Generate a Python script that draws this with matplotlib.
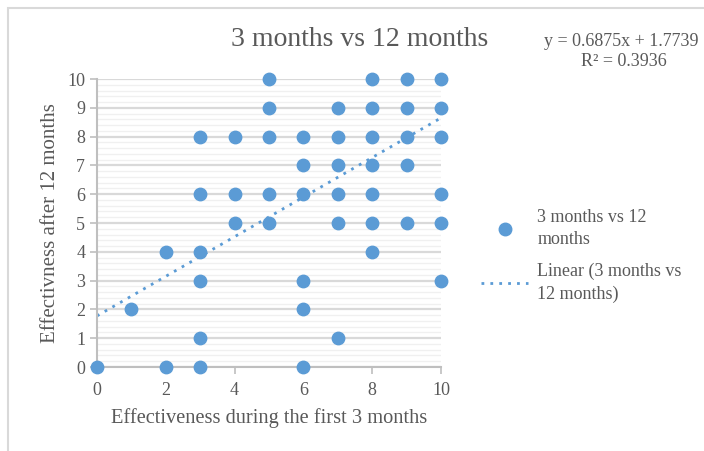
import matplotlib.pyplot as plt
import numpy as np
from matplotlib.patches import Rectangle
from matplotlib.lines import Line2D

plt.rcParams['font.family'] = ['Liberation Serif', 'DejaVu Serif']

# scores (first 3 months, after 12 months)
first_3 = [5, 8, 9, 10,
           5, 7, 8, 9, 10,
           3, 4, 5, 6, 7, 8, 9, 10,
           6, 7, 8, 9,
           3, 4, 5, 6, 7, 8, 10,
           4, 5, 7, 8, 9, 10,
           2, 3, 8,
           3, 6, 10,
           1, 6,
           3, 7,
           0, 2, 3, 6]
after_12 = [10, 10, 10, 10,
            9, 9, 9, 9, 9,
            8, 8, 8, 8, 8, 8, 8, 8,
            7, 7, 7, 7,
            6, 6, 6, 6, 6, 6, 6,
            5, 5, 5, 5, 5, 5,
            4, 4, 4,
            3, 3, 3,
            2, 2,
            1, 1,
            0, 0, 0, 0]

slope = 0.6875
intercept = 1.7739
r2 = 0.3936

blue = '#5B9BD5'
grey_text = '#595959'

fig = plt.figure(figsize=(7.04, 4.51), dpi=100)
fig.patches.append(Rectangle((8 / 704, -0.01), 1.0, 1 - 8 / 451 + 0.01,
                             transform=fig.transFigure, fill=False,
                             edgecolor='#D9D9D9', linewidth=1.5))

ax = fig.add_axes([97 / 704, 1 - 367 / 451, (441 - 97) / 704, (367 - 79) / 451])

ax.set_xlim(0, 10)
ax.set_ylim(0, 10)
ax.set_xticks(np.arange(0, 11, 2))
ax.set_yticks(np.arange(0, 11, 1))
ax.set_yticks(np.arange(0, 10.01, 0.2), minor=True)
ax.grid(axis='y', which='major', color='#D9D9D9', linewidth=1.6)
ax.grid(axis='y', which='minor', color='#F0F0F0', linewidth=1.0)
ax.set_axisbelow(True)
ax.tick_params(axis='y', which='minor', length=0)
ax.tick_params(axis='both', which='major', colors='#BFBFBF', labelcolor=grey_text,
               labelsize=13, length=5, width=1.2)
ax.tick_params(axis='x', pad=6)

for side in ['top', 'right']:
    ax.spines[side].set_visible(False)
for side in ['left', 'bottom']:
    ax.spines[side].set_color('#BFBFBF')
    ax.spines[side].set_linewidth(1.5)

ax.scatter(first_3, after_12, s=80, color=blue, zorder=3, clip_on=False)

xs = np.array([0, 10])
ax.plot(xs, slope * xs + intercept, color=blue, linestyle=(0, (1, 2.2)),
        linewidth=2, zorder=2)

ax.set_xlabel('Effectiveness during the first 3 months', fontsize=14.7,
              color=grey_text, labelpad=6)
ax.set_ylabel('Effectivness after 12 months', fontsize=15, color=grey_text,
              labelpad=5)

fig.text(360 / 704, 1 - 40 / 451, '3 months vs 12 months', fontsize=20,
         color=grey_text, ha='center', va='center')
fig.text(621 / 704, 1 - 42 / 451, 'y = 0.6875x + 1.7739', fontsize=13,
         color=grey_text, ha='center', va='center')
fig.text(624 / 704, 1 - 61 / 451, 'R² = ' + str(r2), fontsize=13,
         color=grey_text, ha='center', va='center')

handles = [Line2D([], [], marker='o', linestyle='none', color=blue, markersize=9),
           Line2D([], [], color=blue, linestyle=(0, (1, 2.2)), linewidth=2)]
labels = ['3 months vs 12\nmonths', 'Linear (3 months vs\n12 months)']
leg = fig.legend(handles, labels, loc='center left',
                 bbox_to_anchor=(465 / 704, 1 - 256 / 451), frameon=False,
                 fontsize=13, labelcolor=grey_text, handlelength=2.6,
                 labelspacing=0.8, handletextpad=0.5)
for t in leg.get_texts():
    t.set_linespacing(1.45)

fig.savefig('out.png', dpi=100)
